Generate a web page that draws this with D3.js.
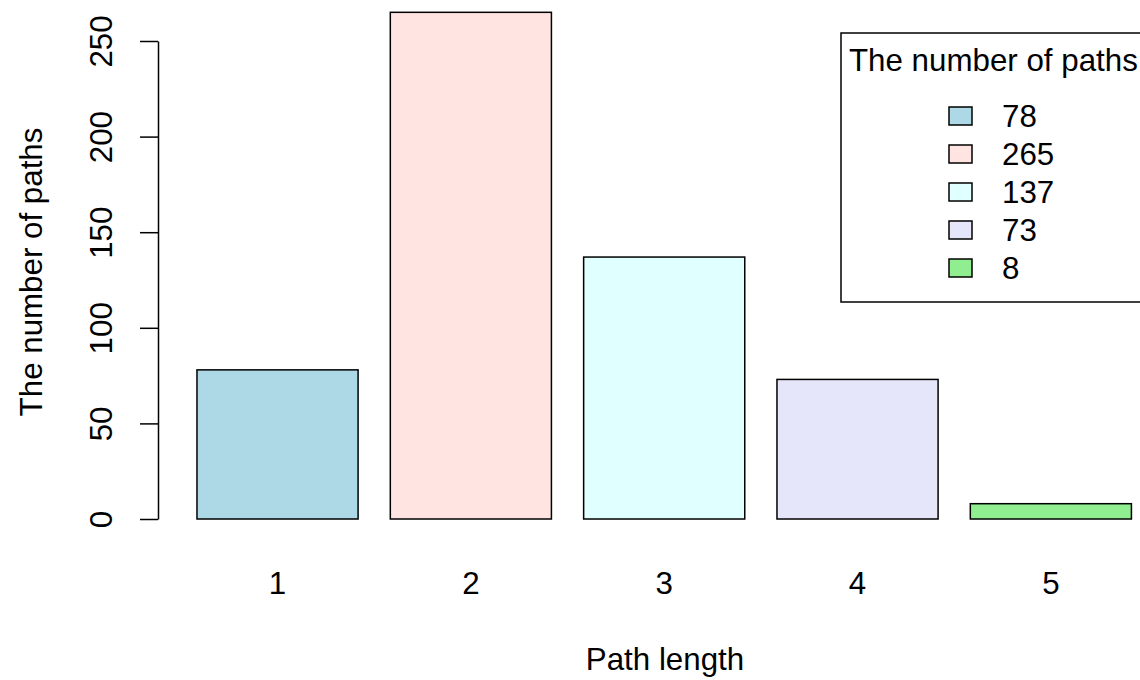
<!DOCTYPE html>
<html>
<head>
<meta charset="utf-8">
<script src="https://cdn.jsdelivr.net/npm/d3@7"></script>
<style>
  html, body { margin: 0; padding: 0; background: #fff; }
  svg { display: block; font-family: "Liberation Sans", Arial, Helvetica, sans-serif; }
</style>
</head>
<body>
<svg id="chart" width="1140" height="680"></svg>
<script>
const pathLengths = ["1", "2", "3", "4", "5"];
const pathCounts = [78, 265, 137, 73, 8];
const barColors = ["#ADD8E6", "#FFE4E1", "#E0FFFF", "#E6E6FA", "#90EE90"];
const yTicks = [0, 50, 100, 150, 200, 250];

const svg = d3.select("#chart");
const fontSize = 31.3;

// barplot-style layout: width 1, space 0.2, with 4% padding
const barW = 1, gap = 0.2;
const xLo = gap, xHi = pathCounts.length * (barW + gap);
const xPad = (xHi - xLo) * 0.04;
const x = d3.scaleLinear().domain([xLo - xPad, xHi + xPad]).range([159.6, 1168.8]);
const y = d3.scaleLinear().domain([0, 250]).range([519, 41]);

// bars
svg.append("g").selectAll("rect")
  .data(pathCounts)
  .join("rect")
  .attr("x", (d, i) => x(gap + i * (barW + gap)))
  .attr("width", (d, i) => x(barW) - x(0))
  .attr("y", d => y(d))
  .attr("height", d => y(0) - y(d))
  .attr("fill", (d, i) => barColors[i])
  .attr("stroke", "#000")
  .attr("stroke-width", 1.5);

// category labels (no tick marks)
svg.append("g").selectAll("text")
  .data(pathLengths)
  .join("text")
  .attr("x", (d, i) => x(gap + i * (barW + gap) + barW / 2))
  .attr("y", 583)
  .attr("dy", "0.35em")
  .attr("text-anchor", "middle")
  .attr("font-size", fontSize)
  .text(d => d);

// y axis
const yAxis = svg.append("g")
  .attr("transform", "translate(158,0)")
  .call(d3.axisLeft(y).tickValues(yTicks).tickSize(18).tickPadding(0).tickSizeOuter(0));
yAxis.select(".domain").attr("stroke", "#000").attr("stroke-width", 1.5);
yAxis.selectAll(".tick line").attr("stroke", "#000").attr("stroke-width", 1.5);
yAxis.selectAll(".tick text")
  .attr("font-size", fontSize)
  .attr("font-family", "Liberation Sans, Arial, sans-serif")
  .attr("fill", "#000")
  .attr("text-anchor", "middle")
  .attr("transform", "rotate(-90)")
  .attr("x", 0)
  .attr("y", -57)
  .attr("dy", "0.35em");

// axis titles
svg.append("text")
  .attr("x", 665).attr("y", 659)
  .attr("dy", "0.35em")
  .attr("text-anchor", "middle")
  .attr("font-size", fontSize)
  .text("Path length");

svg.append("text")
  .attr("transform", "translate(31,272) rotate(-90)")
  .attr("dy", "0.35em")
  .attr("text-anchor", "middle")
  .attr("font-size", fontSize)
  .text("The number of paths");

// legend
const legend = svg.append("g").attr("transform", "translate(841,33)");
legend.append("rect")
  .attr("x", 0).attr("y", 0)
  .attr("width", 320).attr("height", 269)
  .attr("fill", "#fff").attr("stroke", "#000").attr("stroke-width", 1.5);
legend.append("text")
  .attr("x", 8).attr("y", 27)
  .attr("dy", "0.35em")
  .attr("font-size", fontSize)
  .text("The number of paths");
const items = legend.selectAll(".item")
  .data(pathCounts)
  .join("g")
  .attr("class", "item")
  .attr("transform", (d, i) => `translate(0,${83 + i * 38})`);
items.append("rect")
  .attr("x", 108).attr("y", -9)
  .attr("width", 23).attr("height", 18)
  .attr("fill", (d, i) => barColors[i])
  .attr("stroke", "#000").attr("stroke-width", 1.5);
items.append("text")
  .attr("x", 161).attr("y", 0)
  .attr("dy", "0.35em")
  .attr("font-size", fontSize)
  .text(d => d);
</script>
</body>
</html>
